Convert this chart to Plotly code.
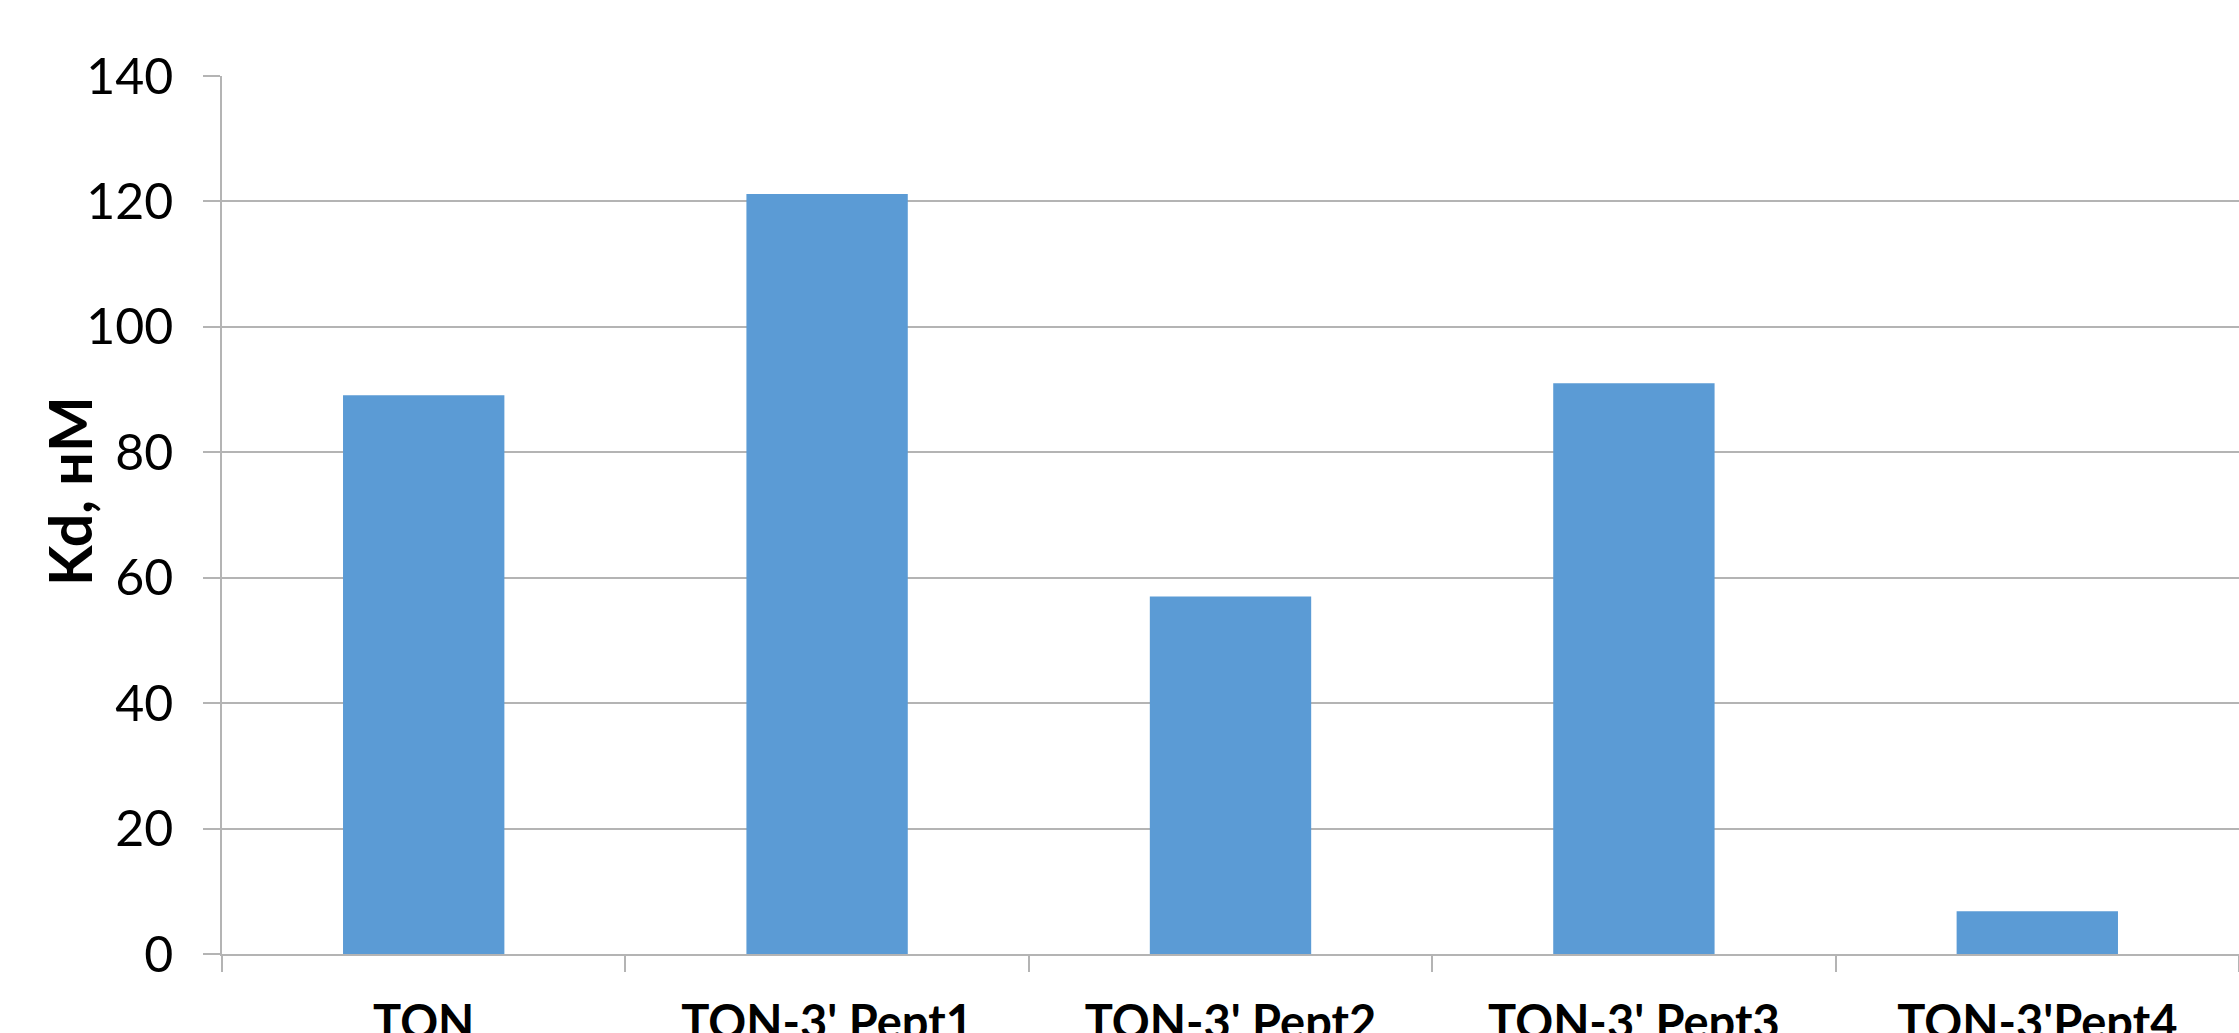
import plotly.graph_objects as go

# Dissociation constants for TON and its 3'-peptide conjugates
categories = ["TON", "TON-3' Pept1", "TON-3' Pept2", "TON-3' Pept3", "TON-3'Pept4"]
kd_values = [89.1, 121.2, 57.0, 91.0, 6.8]
y_ticks = [0, 20, 40, 60, 80, 100, 120, 140]

BAR_COLOR = "#5B9BD5"
GRID_COLOR = "#B4B4B4"
FONT = "Lato"

W, H = 2239, 1033
left, right, top, bottom = 222, 0, 76, 79

fig = go.Figure(
    go.Bar(
        x=categories,
        y=kd_values,
        marker=dict(color=BAR_COLOR, line=dict(width=0)),
        width=0.4,
    )
)

fig.update_layout(
    width=W,
    height=H,
    margin=dict(l=left, r=right, t=top, b=bottom, autoexpand=False),
    paper_bgcolor="white",
    plot_bgcolor="white",
    showlegend=False,
    font=dict(family=FONT, color="black"),
)

fig.update_xaxes(
    showgrid=False,
    showline=True,
    linecolor=GRID_COLOR,
    linewidth=2,
    ticks="outside",
    tickson="boundaries",
    ticklen=16,
    tickwidth=1.5,
    tickcolor=GRID_COLOR,
    tickfont=dict(family=FONT, size=47, color="black", weight="bold"),
    ticklabelstandoff=27,
    automargin=False,
)

fig.update_yaxes(
    range=[0, 140],
    tickvals=y_ticks,
    showgrid=True,
    gridcolor=GRID_COLOR,
    gridwidth=2,
    zeroline=False,
    showline=True,
    linecolor=GRID_COLOR,
    linewidth=1.5,
    ticks="outside",
    ticklen=17,
    tickwidth=2,
    tickcolor=GRID_COLOR,
    tickfont=dict(family=FONT, size=50, color="black"),
    ticklabelstandoff=20,
    automargin=False,
)

plot_h = H - top - bottom
plot_w = W - left - right
fig.add_annotation(
    text="Kd, нМ",
    textangle=-90,
    xref="paper",
    yref="paper",
    x=(69 - left) / plot_w,
    y=(H - bottom - 491) / plot_h,
    xanchor="center",
    yanchor="middle",
    showarrow=False,
    font=dict(family=FONT, size=59, color="black", weight="bold"),
)

fig.write_html("out.html")
